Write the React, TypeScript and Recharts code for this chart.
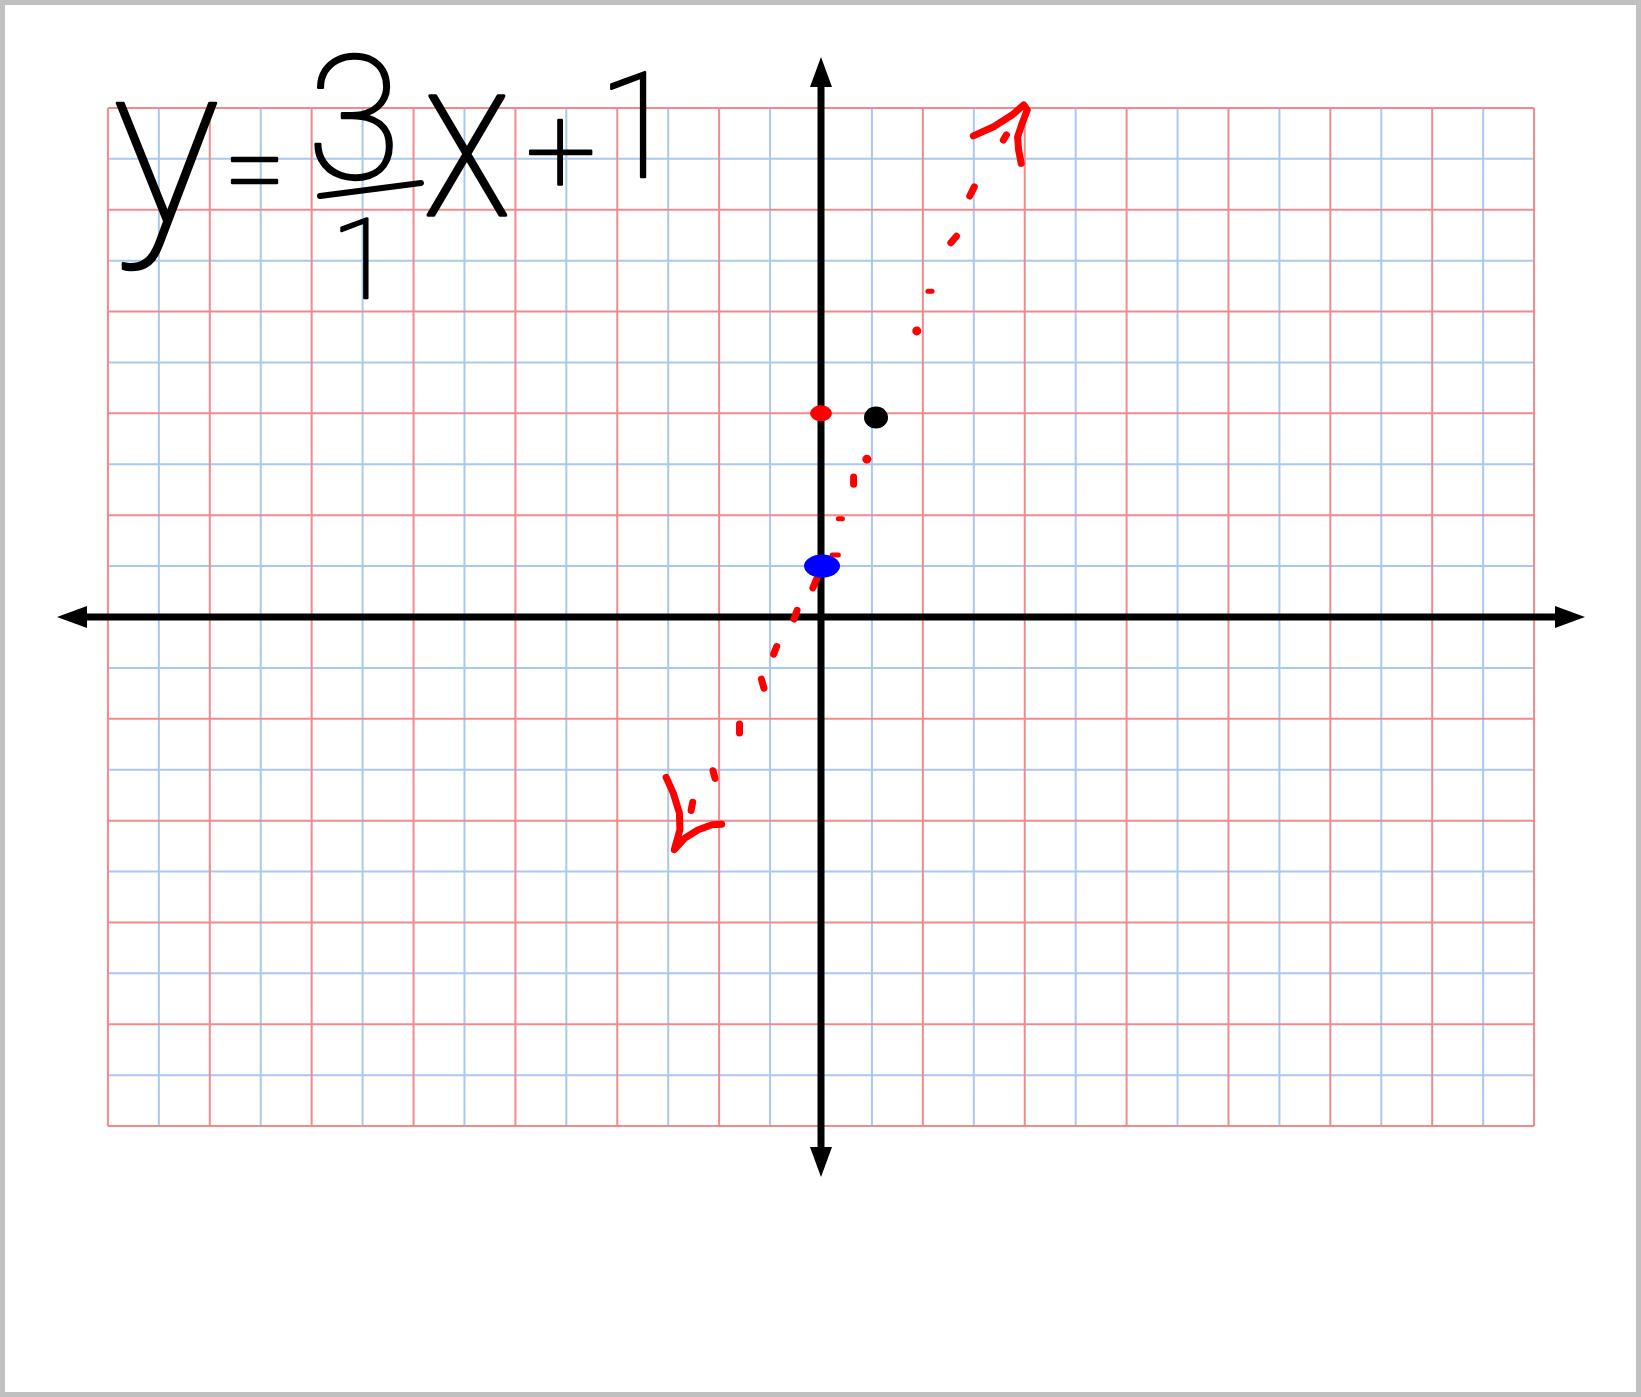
import React from 'react';
import { ComposedChart, XAxis, YAxis, ReferenceLine, Line, Scatter } from 'recharts';

// grid values (one line per unit, red on even, blue on odd)
const GRID_X = [-14, -13, -12, -11, -10, -9, -8, -7, -6, -5, -4, -3, -2, -1, 0, 1, 2, 3, 4, 5, 6, 7, 8, 9, 10, 11, 12, 13, 14];
const GRID_Y = [-10, -9, -8, -7, -6, -5, -4, -3, -2, -1, 0, 1, 2, 3, 4, 5, 6, 7, 8, 9, 10];

// plotted points
const redPoint = [{ x: 0, y: 4 }];
const blackPoint = [{ x: 1.08, y: 3.92 }];
const bluePoint = [{ x: 0.02, y: 1.0 }];

// hand drawn dotted line: short strokes
const dashStrokes = [
  [{ x: -0.08, y: 0.76 }, { x: -0.16, y: 0.57 }],
  [{ x: -0.47, y: 0.13 }, { x: -0.53, y: -0.04 }],
  [{ x: -0.87, y: -0.58 }, { x: -0.93, y: -0.73 }],
  [{ x: -1.17, y: -1.22 }, { x: -1.12, y: -1.4 }],
  [{ x: -1.6, y: -2.1 }, { x: -1.6, y: -2.28 }],
  [{ x: -2.12, y: -3.02 }, { x: -2.08, y: -3.17 }],
  [{ x: -2.52, y: -3.64 }, { x: -2.55, y: -3.8 }],
  [{ x: 0.64, y: 2.75 }, { x: 0.64, y: 2.61 }],
  [{ x: 2.66, y: 7.48 }, { x: 2.55, y: 7.35 }],
  [{ x: 3.01, y: 8.45 }, { x: 2.92, y: 8.27 }],
  [{ x: 3.64, y: 9.47 }, { x: 3.58, y: 9.37 }],
];
const thinStrokes = [
  [{ x: 0.34, y: 1.93 }, { x: 0.42, y: 1.93 }],
  [{ x: 0.22, y: 1.22 }, { x: 0.34, y: 1.22 }],
  [{ x: 2.1, y: 6.4 }, { x: 2.18, y: 6.4 }],
];
const roundDots = [
  { x: 0.9, y: 3.1 },
  { x: 1.88, y: 5.62 },
];

// freehand arrow heads
const topArrow = [
  { x: 2.99, y: 9.45 }, { x: 3.39, y: 9.63 }, { x: 3.75, y: 9.86 }, { x: 3.98, y: 10.06 },
  { x: 4.05, y: 9.96 }, { x: 3.95, y: 9.7 }, { x: 3.86, y: 9.43 }, { x: 3.88, y: 9.17 }, { x: 3.93, y: 8.91 },
];
const bottomArrow = [
  { x: -3.04, y: -3.15 }, { x: -2.9, y: -3.46 }, { x: -2.78, y: -3.85 }, { x: -2.77, y: -4.18 },
  { x: -2.88, y: -4.57 }, { x: -2.67, y: -4.34 }, { x: -2.41, y: -4.18 }, { x: -2.14, y: -4.08 }, { x: -1.95, y: -4.07 },
];

// axis arrow tips
const axisTips = [
  { x: 15, y: 0, dir: 'right' },
  { x: -15, y: 0, dir: 'left' },
  { x: 0, y: 11, dir: 'up' },
  { x: 0, y: -11, dir: 'down' },
];

const RED_GRID = '#f28a8c';
const BLUE_GRID = '#a9c8ef';
const INK_RED = '#ff0000';

const ArrowTip = (props: any) => {
  const { cx, cy, payload } = props;
  const L = 30;
  const W = 11;
  let pts = '';
  if (payload.dir === 'right') pts = `${cx},${cy} ${cx - L},${cy - W} ${cx - L},${cy + W}`;
  if (payload.dir === 'left') pts = `${cx},${cy} ${cx + L},${cy - W} ${cx + L},${cy + W}`;
  if (payload.dir === 'up') pts = `${cx},${cy} ${cx - W},${cy + L} ${cx + W},${cy + L}`;
  if (payload.dir === 'down') pts = `${cx},${cy} ${cx - W},${cy - L} ${cx + W},${cy - L}`;
  return <polygon points={pts} fill="#000" />;
};

// thin font plus a stroke to get a pen-like line weight
const glyph: React.CSSProperties = {
  fontFamily: 'Roboto, "DejaVu Sans", sans-serif',
  fontWeight: 100,
};
const ink = { fill: '#000', stroke: '#000', strokeWidth: 2.5, strokeLinejoin: 'round' as const };

export default function App() {
  return (
    <div style={{ position: 'absolute', left: 0, top: 0, width: 1641, height: 1397, background: '#fff' }}>
      <ComposedChart
        width={1641}
        height={1397}
        margin={{ top: 57, right: 56, left: 57, bottom: 220 }}
      >
        <XAxis type="number" dataKey="x" domain={[-15, 15]} hide allowDataOverflow />
        <YAxis type="number" dataKey="y" domain={[-11, 11]} hide allowDataOverflow />

        {GRID_X.filter((v) => v % 2 !== 0).map((v) => (
          <ReferenceLine key={`bx${v}`} segment={[{ x: v, y: -10 }, { x: v, y: 10 }]} stroke={BLUE_GRID} strokeWidth={2} />
        ))}
        {GRID_Y.filter((v) => v % 2 !== 0).map((v) => (
          <ReferenceLine key={`by${v}`} segment={[{ x: -14, y: v }, { x: 14, y: v }]} stroke={BLUE_GRID} strokeWidth={2} />
        ))}
        {GRID_X.filter((v) => v % 2 === 0).map((v) => (
          <ReferenceLine key={`rx${v}`} segment={[{ x: v, y: -10 }, { x: v, y: 10 }]} stroke={RED_GRID} strokeWidth={2} />
        ))}
        {GRID_Y.filter((v) => v % 2 === 0).map((v) => (
          <ReferenceLine key={`ry${v}`} segment={[{ x: -14, y: v }, { x: 14, y: v }]} stroke={RED_GRID} strokeWidth={2} />
        ))}

        {/* main axes */}
        <ReferenceLine segment={[{ x: -14.5, y: 0 }, { x: 14.5, y: 0 }]} stroke="#000" strokeWidth={7} />
        <ReferenceLine segment={[{ x: 0, y: -10.5 }, { x: 0, y: 10.5 }]} stroke="#000" strokeWidth={7} />
        <Scatter data={axisTips} shape={ArrowTip} isAnimationActive={false} />

        {/* dotted line */}
        {dashStrokes.map((d, i) => (
          <Line key={`d${i}`} data={d} dataKey="y" stroke={INK_RED} strokeWidth={7} strokeLinecap="round" dot={false} activeDot={false} isAnimationActive={false} />
        ))}
        {thinStrokes.map((d, i) => (
          <Line key={`t${i}`} data={d} dataKey="y" stroke={INK_RED} strokeWidth={5} strokeLinecap="round" dot={false} activeDot={false} isAnimationActive={false} />
        ))}
        <Scatter data={roundDots} isAnimationActive={false} shape={(p: any) => <circle cx={p.cx} cy={p.cy} r={4.5} fill={INK_RED} />} />

        {/* arrow heads */}
        <Line data={topArrow} dataKey="y" stroke={INK_RED} strokeWidth={7} strokeLinecap="round" strokeLinejoin="round" dot={false} activeDot={false} isAnimationActive={false} />
        <Line data={bottomArrow} dataKey="y" stroke={INK_RED} strokeWidth={7} strokeLinecap="round" strokeLinejoin="round" dot={false} activeDot={false} isAnimationActive={false} />

        {/* points */}
        <Scatter data={redPoint} isAnimationActive={false} shape={(p: any) => <ellipse cx={p.cx} cy={p.cy} rx={11} ry={8} fill={INK_RED} />} />
        <Scatter data={blackPoint} isAnimationActive={false} shape={(p: any) => <ellipse cx={p.cx} cy={p.cy} rx={12} ry={11} fill="#000" />} />
        <Scatter data={bluePoint} isAnimationActive={false} shape={(p: any) => <ellipse cx={p.cx} cy={p.cy} rx={18} ry={11.5} fill="#0000ff" />} />
      </ComposedChart>

      {/* handwritten equation */}
      <svg width={1641} height={1397} style={{ position: 'absolute', left: 0, top: 0, pointerEvents: 'none' }}>
        <text x={166} y={222} fontSize={225} textAnchor="middle" style={glyph} {...ink}>y</text>
        <text x={255} y={206} fontSize={110} textAnchor="middle" style={glyph} {...ink}>=</text>
        <text x={354} y={178} fontSize={172} textAnchor="middle" style={glyph} {...ink}>3</text>
        <line x1={320} y1={196} x2={421} y2={183} stroke="#000" strokeWidth={6} strokeLinecap="round" />
        <text x={362} y={298} fontSize={112} textAnchor="middle" style={glyph} {...ink}>1</text>
        <text transform="translate(467,215) scale(1.15,1.4)" x={0} y={0} fontSize={160} textAnchor="middle" style={glyph} {...ink}>x</text>
        <text x={561} y={193} fontSize={125} textAnchor="middle" style={glyph} {...ink}>+</text>
        <text x={638} y={177} fontSize={146} textAnchor="middle" style={glyph} {...ink}>1</text>
      </svg>

      <div style={{ position: 'absolute', left: 0, top: 0, width: 1641, height: 1397, boxSizing: 'border-box', border: '5px solid #c0c0c0', pointerEvents: 'none' }} />
    </div>
  );
}
